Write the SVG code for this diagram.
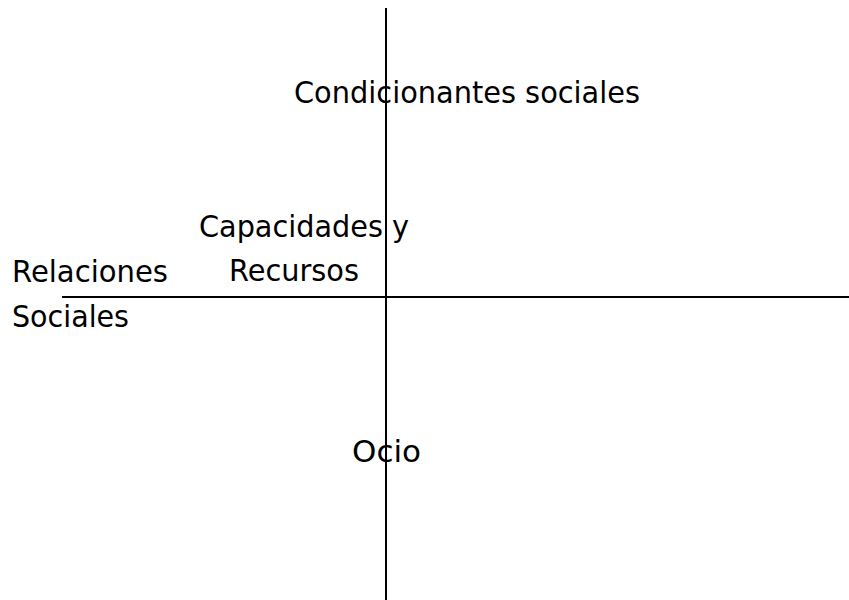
<svg xmlns="http://www.w3.org/2000/svg" width="849" height="600" viewBox="0 0 849 600">
<style>
text{font-family:"DejaVu Sans","Verdana",sans-serif;font-size:30px;fill:#000}
.ax{stroke:#000;stroke-width:2;fill:none}
</style>
<rect width="849" height="600" fill="#fff"/>
<g id="connectors">
<line class="ax" x1="386" y1="8" x2="386" y2="600"/>
<line class="ax" x1="62" y1="297" x2="849" y2="297"/>
</g>
<g id="condicionantes"><text x="294" y="103" textLength="346" lengthAdjust="spacingAndGlyphs">Condicionantes sociales</text></g>
<g id="capacidades"><text x="199" y="237" textLength="210" lengthAdjust="spacingAndGlyphs">Capacidades y</text><text x="229" y="281" textLength="130" lengthAdjust="spacingAndGlyphs">Recursos</text></g>
<g id="relaciones"><text x="12" y="282" textLength="156" lengthAdjust="spacingAndGlyphs">Relaciones</text><text x="12" y="327" textLength="117" lengthAdjust="spacingAndGlyphs">Sociales</text></g>
<g id="ocio"><text x="352" y="462" textLength="69" lengthAdjust="spacingAndGlyphs">Ocio</text></g>
</svg>
